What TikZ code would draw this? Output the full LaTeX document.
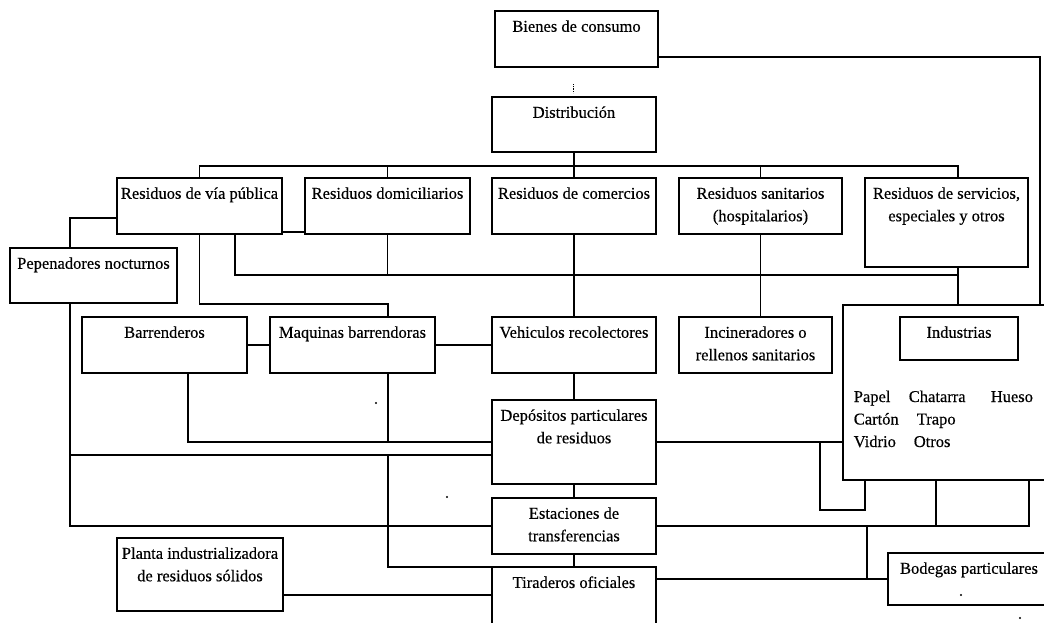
\documentclass[tikz,border=0pt]{standalone}
\usepackage{fontspec}
\setmainfont{Liberation Serif}
\newfontfamily\diagfont[FakeBold=0.4]{Liberation Serif}
\begin{document}
\begin{tikzpicture}[x=1pt,y=-1pt,line width=1.6pt,
  txt/.style={font=\diagfont\fontsize{16.5}{22.5}\selectfont, inner sep=0pt, align=center, anchor=north, yshift=-8.5pt},
  word/.style={font=\diagfont\fontsize{16.5}{22.5}\selectfont, inner sep=0pt, anchor=base west},
  bx/.style n args={3}{draw, rectangle, inner sep=0pt, outer sep=0pt,
    minimum width=#1, minimum height=#2, label={[txt]north:{#3}}},
  speck/.style={fill=black}]
\useasboundingbox (0,0) rectangle (1044,622);

% boxes
\node[bx={163pt}{56pt}{Bienes de consumo}] (bien) at (576.5,39) {};
\node[bx={164pt}{55pt}{Distribución}] (dist) at (574,124.5) {};
\node[bx={165pt}{56pt}{Residuos de vía pública}] (via) at (199.5,206) {};
\node[bx={165pt}{56pt}{Residuos domiciliarios}] (dom) at (387.5,206) {};
\node[bx={164pt}{56pt}{Residuos de comercios}] (com) at (574,206) {};
\node[bx={163pt}{56pt}{Residuos sanitarios\\(hospitalarios)}] (san) at (760.5,206) {};
\node[bx={163pt}{89pt}{Residuos de servicios,\\especiales y otros}] (serv) at (946.5,222.5) {};
\node[bx={167pt}{55pt}{Pepenadores nocturnos}] (pep) at (93.5,275.5) {};
\node[bx={165pt}{56pt}{Barrenderos}] (barr) at (164.5,345) {};
\node[bx={165pt}{56pt}{Maquinas barrendoras}] (maq) at (352.5,345) {};
\node[bx={164pt}{56pt}{Vehiculos recolectores}] (veh) at (574,345) {};
\node[bx={153pt}{56pt}{Incineradores o\\rellenos sanitarios}] (inc) at (755.5,345) {};
\node[draw, rectangle, inner sep=0pt, outer sep=0pt, minimum width=205pt, minimum height=175pt] (big) at (945.5,392.5) {};
\node[bx={118pt}{43pt}{Industrias}] (ind) at (959,338.5) {};
\node[bx={164pt}{84pt}{Depósitos particulares\\de residuos}] (dep) at (574,442) {};
\node[bx={164pt}{56pt}{Estaciones de\\transferencias}] (est) at (574,526) {};
\node[bx={164pt}{78pt}{Tiraderos oficiales}] (tir) at (574,606) {};
\node[bx={166pt}{73pt}{Planta industrializadora\\de residuos sólidos}] (planta) at (200,574.5) {};
\node[bx={162pt}{52pt}{Bodegas particulares}] (bod) at (969,579) {};

% materials recovered by industry
\node[word] (papel) at (853,402) {Papel};
\node[word] (chat) at (908,402) {Chatarra};
\node[word] (hueso) at (990,402) {Hueso};
\node[word] (carton) at (853,424.5) {Cartón};
\node[word] (trapo) at (916,424.5) {Trapo};
\node[word] (vidrio) at (853,447) {Vidrio};
\node[word] (otros) at (913,447) {Otros};

% consumer goods to industry
\draw ([yshift=-18pt]bien.east) -| ([xshift=-8pt]big.north east);
\draw[densely dotted, line width=0.8pt] (573,84) -- (573,93);

% distribution bus
\coordinate (bus) at (574,166);
\draw (dist.south) -- (bus);
\draw (via.north) |- (bus);
\draw ([xshift=11.5pt]serv.north) |- (bus);
\draw (dom.north) -- (dom.north |- bus);
\draw (com.north) -- (bus);
\draw (san.north) -- (san.north |- bus);

% street waste
\draw ([yshift=2pt]via.south east) -- ([yshift=2pt]dom.south west);
\draw ([yshift=-12pt]via.west) -| ([xshift=-23.5pt]pep.north);
\coordinate (pj) at ([xshift=-23.5pt]pep.south);
\draw (pj) |- (est.west);
\draw ([yshift=-13pt]dep.west) -| (pj);
\draw (via.south) -- ++(0,70) -| ([xshift=35.5pt]maq.north);

% collection line
\coordinate (v2) at ([xshift=35.5pt]via.south);
\coordinate (sd) at ([xshift=11.5pt]serv.south);
\draw (v2) -- ++(0,41) -| (sd);
\draw (dom.south) -- ++(0,41);
\draw (com.south) -- (veh.north);
\draw (san.south) -- (san.south |- inc.north);
\draw (sd) -- (sd |- big.north);

% sweepers
\draw (barr.east) -- (maq.west);
\draw (maq.east) -- (veh.west);
\draw ([xshift=23.5pt]barr.south) |- (dep.west);
\coordinate (mj) at ([xshift=35.5pt]maq.south);
\draw (mj) -- (mj |- dep.west);
\coordinate (d455) at ([yshift=-13pt]dep.west);
\draw (d455 -| mj) |- (tir.north west);

% main column
\draw (veh.south) -- (dep.north);
\draw (dep.south) -- (est.north);
\draw (est.south) -- (tir.north);
\coordinate (pl) at ([yshift=-20.5pt]planta.east);
\draw (pl) -- (pl -| tir.west);

% right side
\draw (dep.east) -- (dep.east -| big.west);
\coordinate (lpA) at (820,442);
\coordinate (lpB) at (820,510);
\draw (lpA) -- (lpB) -| ([xshift=22pt]big.south west);
\draw (est.east) -| ([xshift=186pt]big.south west);
\coordinate (bs1) at ([xshift=93pt]big.south west);
\draw (bs1) -- (bs1 |- est.east);
\draw (tir.east |- bod.west) -- (bod.west);
\coordinate (vx) at (867,0);
\draw (vx |- est.east) -- (vx |- bod.west);

% specks
\fill[speck] (376,403) circle (1.2pt);
\fill[speck] (447,497) circle (1.2pt);
\fill[speck] (961,595) circle (1.2pt);
\fill[speck] (1020,618) circle (1.2pt);
\end{tikzpicture}
\end{document}
